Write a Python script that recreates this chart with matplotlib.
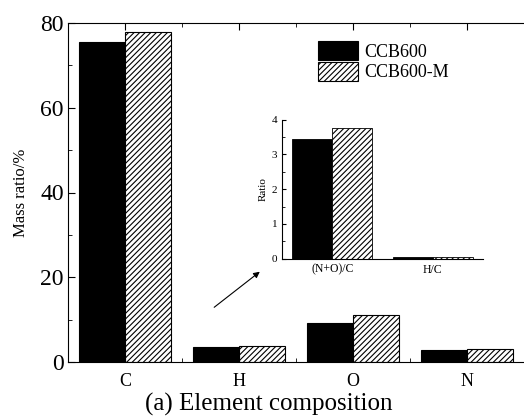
import matplotlib
matplotlib.use("Agg")
import matplotlib.pyplot as plt
import numpy as np
from matplotlib.ticker import MultipleLocator

plt.rcParams['font.family'] = ['Liberation Serif', 'DejaVu Serif']
plt.rcParams['hatch.linewidth'] = 0.8

elements = ['C', 'H', 'O', 'N']
ccb600 = [75.5, 3.5, 9.2, 2.75]
ccb600m = [77.9, 3.7, 11.1, 3.0]

ratio_labels = ['(N+O)/C', 'H/C']
ratio_ccb600 = [3.44, 0.05]
ratio_ccb600m = [3.75, 0.05]

W, H = 524, 416
fig = plt.figure(figsize=(W/100, H/100), dpi=100)
ax = fig.add_axes([68/W, 1-362/H, (524-68)/W, (362-23)/H])

x = np.arange(len(elements))
bw = 0.4
ax.bar(x - bw/2, ccb600, bw, color='black', edgecolor='black', linewidth=0.8, label='CCB600')
ax.bar(x + bw/2, ccb600m, bw, color='white', edgecolor='black', hatch='//////', linewidth=0.8, label='CCB600-M')
ax.set_xlim(-0.5, 3.5)
ax.set_ylim(0, 80)
ax.set_xticks(x)
ax.set_xticklabels(elements, fontsize=13)
ax.xaxis.set_minor_locator(MultipleLocator(0.5))
ax.yaxis.set_major_locator(MultipleLocator(20))
ax.yaxis.set_minor_locator(MultipleLocator(10))
ax.tick_params(axis='both', which='both', direction='in', top=True, right=False)
ax.tick_params(axis='y', labelsize=17, pad=3)
ax.tick_params(axis='x', pad=8)
ax.tick_params(which='major', length=5)
ax.tick_params(which='minor', length=3)
ax.spines['right'].set_visible(False)
ax.set_ylabel('Mass ratio/%', fontsize=12, labelpad=8)
ax.set_xlabel('(a) Element composition', fontsize=18)
ax.xaxis.set_label_coords((269-68)/456, -(411-362)/339)
ax.xaxis.label.set_va('baseline')

leg = ax.legend(loc='upper left', bbox_to_anchor=(0.52, 0.985), frameon=False, fontsize=13,
                handlelength=2.25, handleheight=1.3, handletextpad=0.3, labelspacing=0.05, borderpad=0.2)

# inset
ins = fig.add_axes([282/W, 1-258.7/H, (483-282)/W, (258.7-119.5)/H])
xi = np.arange(len(ratio_labels))
ins.bar(xi - bw/2, ratio_ccb600, bw, color='black', edgecolor='black', linewidth=0.6)
ins.bar(xi + bw/2, ratio_ccb600m, bw, color='white', edgecolor='black', hatch='//////', linewidth=0.6)
ins.set_xlim(-0.5, 1.5)
ins.set_ylim(0, 4)
ins.set_xticks(xi)
ins.set_xticklabels(ratio_labels, fontsize=8.5)
ins.yaxis.set_major_locator(MultipleLocator(1))
ins.yaxis.set_minor_locator(MultipleLocator(0.5))
ins.tick_params(axis='y', labelsize=8)
ins.tick_params(which='both', direction='in', length=3)
ins.tick_params(which='minor', length=2)
ins.tick_params(axis='x', length=0)
ins.spines['top'].set_visible(False)
ins.spines['right'].set_visible(False)
ins.set_ylabel('Ratio', fontsize=8, labelpad=3)
ins.patch.set_alpha(0)

ax.annotate('', xy=(262/W, 1-270/H), xytext=(212/W, 1-309/H), xycoords='figure fraction',
            textcoords='figure fraction',
            arrowprops=dict(arrowstyle='-|>', color='black', lw=0.8, mutation_scale=9))

fig.savefig('out.png', dpi=100)
